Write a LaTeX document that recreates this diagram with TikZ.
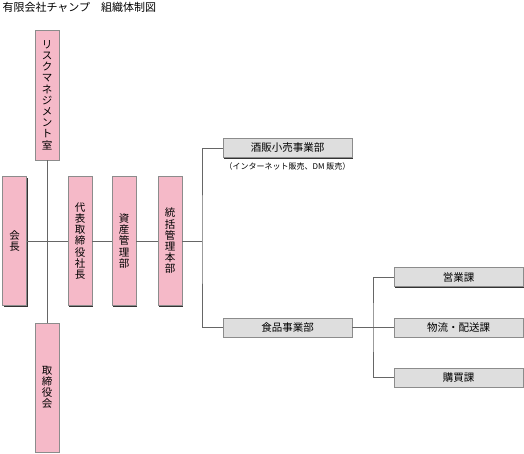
\documentclass[tikz,border=0pt]{standalone}
\usepackage{fontspec}
\setmainfont{Noto Sans CJK JP}
\usetikzlibrary{shadows}
\definecolor{boxpink}{RGB}{245,185,200}
\definecolor{boxgray}{RGB}{222,222,222}
\tikzset{
  orgbox/.style = {draw = black!45, inner sep = 0pt, align = center,
    drop shadow = {shadow xshift = 1pt, shadow yshift = -1pt, fill = black!80, opacity = 1},
    font = \fontsize{10.5}{11.2}\selectfont},
  pinkbox/.style = {orgbox, fill = boxpink, minimum width = 24pt, minimum height = 129pt},
  graybox/.style = {orgbox, fill = boxgray, minimum width = 129pt, minimum height = 19pt},
  link/.style = {draw = black!60, line width = 0.6pt}
}

\begin{document}
\begin{tikzpicture}[x = 1pt, y = -1pt]
\useasboundingbox (0,0) rectangle (524,453);
\node [anchor = west, font = \fontsize{11}{12}\selectfont] (title) at (-1,7) {有限会社チャンプ　組織体制図};
% left column
\node [pinkbox, minimum height = 130pt] (risk) at (47,95) {リ\\ス\\ク\\マ\\ネ\\ジ\\メ\\ン\\ト\\室};
\node [pinkbox] (kaicho) at (14.5,241) {会\\長};
\node [pinkbox] (torishimari) at (47,387.5) {取\\締\\役\\会};
\node [pinkbox] (daihyo) at (80,241) {代\\表\\取\\締\\役\\社\\長};
\node [pinkbox] (shisan) at (124,241) {資\\産\\管\\理\\部};
\node [pinkbox] (toukatsu) at (170,241) {統\\括\\管\\理\\本\\部};
% business divisions
\node [graybox] (sakehan) at (287.5,148) {酒販小売事業部};
\node [font = \fontsize{8}{9}\selectfont, below = 1pt] (sakenote) at (sakehan.south) {（インターネット販売、DM 販売）};
\node [graybox] (shokuhin) at (287.5,327.5) {食品事業部};
\node [graybox] (eigyo) at (458.5,277) {営業課};
\node [graybox] (butsuryu) at (458.5,327.5) {物流・配送課};
\node [graybox] (kobai) at (458.5,377.5) {購買課};
% connectors
\coordinate (trunk) at (202,241);
\coordinate (branch) at (373,327.5);
\draw [link] (risk.south) -- (torishimari.north);
\draw [link] (kaicho.east) -- (daihyo.west);
\draw [link] (daihyo.east) -- (shisan.west);
\draw [link] (shisan.east) -- (toukatsu.west);
\draw [link] (toukatsu.east) -- (trunk);
\draw [link] (sakehan.west) -| (trunk) |- (shokuhin.west);
\draw [link] (shokuhin.east) -- (butsuryu.west);
\draw [link] (eigyo.west) -| (branch) |- (kobai.west);
\end{tikzpicture}
\end{document}
